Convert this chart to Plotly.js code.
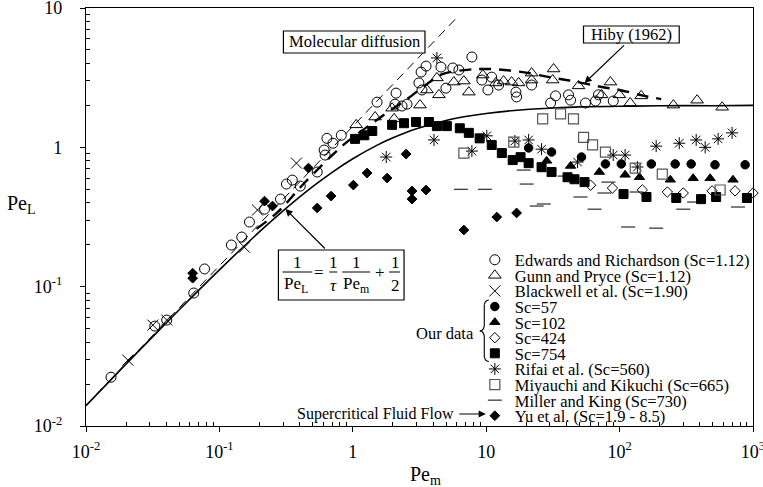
<!DOCTYPE html>
<html><head><meta charset="utf-8">
<script src="https://cdn.plot.ly/plotly-3.0.1.min.js"></script>
<style>html,body{margin:0;padding:0;background:#fff}#chart{width:763px;height:487px}</style>
</head><body><div id="chart"></div>
<script>
// ---------------- DATA ----------------
const modelX = [0.01,0.02,0.05,0.1,0.2,0.3,0.5,0.7,1,1.5,2,3,5,7,10,20,30,50,100,200,500,1000];
const modelY = [0.0140,0.0279,0.0683,0.132,0.248,0.350,0.522,0.662,0.828,1.029,1.17,1.359,1.56,1.664,1.75,1.87,1.91,1.95,1.97,1.99,1.99,2.0];
const molX = [0.01, 6.0];
const molY = [0.0141, 8.5];
const hibyX = [0.19,0.28,0.43,0.85,1.4,2.0,2.6,3.6,4.7,7.2,10.4,17.5,32,48,72,100,150,205];
const hibyY = [0.26,0.35,0.55,1.04,1.49,1.9,2.25,2.85,3.35,3.6,3.65,3.5,3.15,2.95,2.72,2.58,2.35,2.22];

const edwardsX = [0.0154,0.0328,0.0403,0.0642,0.0774,0.123,0.147,0.168,0.218,0.287,0.318,0.352,0.404,0.541,0.62,0.61,0.64,0.71,0.82,1.52,2.11,2.07,2.34,2.55,3.13,3.25,3.54,3.30,4.58,4.99,5.62,6.24,7.81,9.28,10.3,11.0,12.4,16.7,16.9,21.9,30.4,33.1,41.4,42.9,55.5,66.0,69.4,89.6];
const edwardsY = [0.0224,0.0521,0.0576,0.090,0.134,0.199,0.227,0.291,0.360,0.425,0.545,0.582,0.527,0.665,0.88,0.956,1.16,1.07,1.22,2.11,2.45,2.04,1.98,2.04,2.90,3.47,3.83,2.58,3.77,2.66,3.71,3.59,4.45,3.04,2.58,3.19,2.80,2.49,2.30,2.80,2.08,2.34,2.38,2.18,2.08,2.15,2.38,2.15];
const gunnX = [1.06,1.47,1.97,2.04,3.19,3.60,4.27,4.42,5.72,6.80,7.41,9.43,11.8,13.5,15.5,17.5,21.9,21.9,32.0,31.5,49.2,73.2,85.3,99.6,120,145,253,381,587];
const gunnY = [1.45,1.65,1.91,1.60,2.01,2.58,3.15,2.38,2.94,2.99,2.49,3.30,2.90,2.99,2.94,2.90,3.41,3.04,3.65,3.04,2.76,2.38,2.94,2.38,2.08,2.34,2.01,2.18,1.94];
const blackX = [0.0206,0.0317,0.0403,0.154,0.193,0.378];
const blackY = [0.0297,0.053,0.0576,0.192,0.355,0.77];
const sc57X = [20.8,30.9,51.8,78.3,103,173,261,344,519,873];
const sc57Y = [0.99,0.925,0.852,0.76,0.76,0.76,0.76,0.76,0.75,0.75];
const sc102X = [28.4,42.9,70.5,110,141,240,356,477,708];
const sc102Y = [0.80,0.735,0.665,0.635,0.61,0.585,0.60,0.60,0.585];
const sc424X = [60.6,88.4,148,228,300,494,734,1000];
const sc424Y = [0.535,0.51,0.495,0.478,0.47,0.487,0.487,0.47];
const sc754X = [1.04,1.22,1.40,1.97,2.42,2.98,3.72,4.27,5.07,6.34,7.41,8.93,11.0,13.1,15.8,18.1,20.8,26.0,30.9,40.7,45.9,54.6,107,159,266,408,529,900];
const sc754Y = [1.15,1.22,1.31,1.45,1.49,1.52,1.52,1.42,1.42,1.37,1.27,1.16,1.04,0.91,0.81,0.85,0.77,0.72,0.665,0.61,0.59,0.563,0.462,0.44,0.433,0.425,0.44,0.433];
const rifaiX = [1.78,4.06,4.27,7.81,10.1,16.4,20.8,26.0,48.4,89.6,110,136,188,280,375,438,548,697];
const rifaiY = [0.852,1.13,4.38,0.94,1.21,1.11,1.13,0.97,0.784,0.88,0.88,0.722,1.02,1.07,1.13,1.0,1.15,1.27];
const miyX = [6.80,16.1,26.5,36.1,45.1,53.7,62.7,78.3,131,209,567];
const miyY = [0.91,1.09,1.60,1.74,1.60,1.18,1.04,0.925,0.71,0.643,0.494];
const millerX = [6.46,9.77,19.1,20.1,23.9,27.0,38.7,50.9,64.9,77.0,82.5,116,134,188,300,362,772];
const millerY = [0.50,0.50,0.687,0.545,0.379,0.392,0.622,0.44,0.36,0.47,0.563,0.268,0.478,0.263,0.36,0.405,0.373];
const yuX = [0.063,0.063,0.218,0.250,0.465,0.541,0.688,1.01,1.28,1.81,2.51,2.78,2.78,3.54,6.80,12.0,16.9];
const yuY = [0.125,0.115,0.411,0.379,0.71,0.367,0.447,0.536,0.654,0.602,0.895,0.486,0.425,0.494,0.255,0.316,0.338];

const xTickVals = [0.01,0.1,1,10,100,1000];
const xTickText = ['10<sup>-2</sup>','10<sup>-1</sup>','1','10','10<sup>2</sup>','10<sup>3</sup>'];
const yTickVals = [0.01,0.1,1,10];
const yTickText = ['10<sup>-2</sup>','10<sup>-1</sup>','1','10'];

const legendNames = ['Edwards and Richardson (Sc=1.12)','Gunn and Pryce (Sc=1.12)','Blackwell et al. (Sc=1.90)',
  'Sc=57','Sc=102','Sc=424','Sc=754','Rifai et al. (Sc=560)','Miyauchi and Kikuchi (Sc=665)','Miller and King (Sc=730)','Yu et al. (Sc=1.9 - 8.5)'];

// ---------------- LAYOUT HELPERS ----------------
const FONT = 'Liberation Serif, Times New Roman, serif';
const L=86, R=755, T=8, B=426;
const fx = px => (px-L)/(R-L);
const fy = py => (B-py)/(B-T);

function minorVals(lo, hi){ const v=[]; for(let e=lo;e<hi;e++){ for(let k=2;k<=9;k++) v.push(k*Math.pow(10,e)); } return v; }

const black = '#000';
function mk(x,y,name,symbol,size,legendId,extra){
  return Object.assign({x:x,y:y,type:'scatter',mode:'markers',name:name,legend:legendId,
    marker:{symbol:symbol,size:size,color:black,line:{color:black,width:1}},cliponaxis:false}, extra||{});
}

const traces = [
  {x:molX,y:molY,type:'scatter',mode:'lines',line:{color:black,width:1,dash:'9px,6px'},showlegend:false},
  {x:modelX,y:modelY,type:'scatter',mode:'lines',line:{color:black,width:1.6,shape:'spline'},showlegend:false},
  {x:hibyX,y:hibyY,type:'scatter',mode:'lines',line:{color:black,width:2.4,dash:'12px,8px',shape:'spline'},showlegend:false},
  mk(edwardsX,edwardsY,legendNames[0],'circle-open',10,'legend'),
  mk(gunnX,gunnY,legendNames[1],'triangle-up-open',11,'legend2'),
  mk(blackX,blackY,legendNames[2],'x-thin-open',11,'legend3'),
  mk(sc57X,sc57Y,legendNames[3],'circle',8.5,'legend4'),
  mk(sc102X,sc102Y,legendNames[4],'triangle-up',9,'legend5'),
  mk(sc424X,sc424Y,legendNames[5],'diamond-open',8,'legend6'),
  mk(sc754X,sc754Y,legendNames[6],'square',9,'legend7'),
  mk(rifaiX,rifaiY,legendNames[7],'asterisk-open',10,'legend8'),
  mk(miyX,miyY,legendNames[8],'square-open',10,'legend9',{marker:{symbol:'square-open',size:10,color:'#555',line:{color:'#555',width:1.2}}}),
  mk(millerX,millerY,legendNames[9],'line-ew-open',10,'legend10'),
  mk(yuX,yuY,legendNames[10],'diamond',7.5,'legend11')
];

const LEGX = 476;
const rowY0 = 260, rowStep = 15.6;
const layout = {
  width:763, height:487,
  margin:{l:L, r:763-R, t:T, b:487-B, pad:0},
  paper_bgcolor:'#fff', plot_bgcolor:'#fff',
  font:{family:FONT, color:black, size:16},
  showlegend:true,
  xaxis:{type:'log', range:[-2,3], tickmode:'array', tickvals:xTickVals, ticktext:xTickText,
    ticks:'outside', ticklen:5, tickwidth:1, tickcolor:black, showline:true, mirror:true, linecolor:black, linewidth:1.2,
    showgrid:false, zeroline:false, tickfont:{family:FONT,size:18,color:black}, ticklabelstandoff:4, ticklabeloverflow:'allow',
    minor:{tickmode:'array', tickvals:minorVals(-2,3), ticks:'inside', ticklen:4, tickwidth:1, tickcolor:black, showgrid:false}},
  yaxis:{type:'log', range:[-2,1], tickmode:'array', tickvals:yTickVals, ticktext:yTickText,
    ticks:'outside', ticklen:5, tickwidth:1, tickcolor:black, showline:true, mirror:true, linecolor:black, linewidth:1.2,
    showgrid:false, zeroline:false, tickfont:{family:FONT,size:18,color:black}, ticklabelstandoff:14, ticklabeloverflow:'allow',
    minor:{tickmode:'array', tickvals:minorVals(-2,1), ticks:'inside', ticklen:4, tickwidth:1, tickcolor:black, showgrid:false}},
  annotations:[], shapes:[]
};
for(let i=0;i<11;i++){
  layout[i===0?'legend':'legend'+(i+1)] = {x:fx(LEGX), y:fy(rowY0+rowStep*i), xref:'paper', yref:'paper',
    xanchor:'left', yanchor:'middle', bgcolor:'rgba(255,255,255,0)', borderwidth:0, itemwidth:30,
    font:{family:FONT,size:16.5,color:black}};
}

function txt(text, px, py, size, xanchor, extra){
  layout.annotations.push(Object.assign({text:text, x:fx(px), y:fy(py), xref:'paper', yref:'paper',
    xanchor:xanchor||'center', yanchor:'middle', showarrow:false, font:{family:FONT,size:size,color:black}}, extra||{}));
}
function arrow(hx, hy, tx, ty){
  layout.annotations.push({text:'', x:fx(hx), y:fy(hy), xref:'paper', yref:'paper', showarrow:true,
    ax:tx-hx, ay:ty-hy, axref:'pixel', ayref:'pixel', arrowhead:2, arrowsize:1.2, arrowwidth:1.2, arrowcolor:black});
}
function rect(x0,y0,x1,y1){
  layout.shapes.push({type:'rect', xref:'paper', yref:'paper', x0:fx(x0), x1:fx(x1), y0:fy(y0), y1:fy(y1),
    line:{color:black,width:1.2}, fillcolor:'#fff', layer:'above'});
}
function seg(x0,y0,x1,y1,w){
  layout.shapes.push({type:'line', xref:'paper', yref:'paper', x0:fx(x0), x1:fx(x1), y0:fy(y0), y1:fy(y1),
    line:{color:black,width:w||1}, layer:'above'});
}

// axis titles
txt('Pe<sub>L</sub>', 21, 205, 20);
txt('Pe<sub>m</sub>', 427, 475, 20);

// Molecular diffusion box
rect(284,31,426,53);
txt('Molecular diffusion', 355, 42, 16.5);
// Hiby box + arrow
rect(585,26,681,43);
txt('Hiby (1962)', 633, 34.5, 16.5);
arrow(586,83, 627,44);

// Equation box + arrow
rect(279,250,405,300);
arrow(286,209, 327,250);
[[298,'1'],[334,'1'],[357,'1'],[396,'1']].forEach(a=>txt(a[1], a[0], 262, 17));
seg(283,272,313,272); seg(330,272,338,272); seg(343,272,371,272); seg(390,272,401,272);
txt('Pe<sub>L</sub>', 297, 285, 17);
txt('<i>τ</i>', 334, 285, 17);
txt('Pe<sub>m</sub>', 357, 285, 17);
txt('2', 396, 285, 17);
txt('=', 320, 272, 17);
txt('+', 381, 272, 17);

// Our data brace (polyline of line segments approximating a curly brace)
txt('Our data', 477, 333, 16.5, 'right');
const bracePts = [[490,300],[488,300.5],[486.5,302],[485.5,304.5],[485.5,326],[484.5,329],[483,330.5],[481,331],
                  [483,331.5],[484.5,333],[485.5,336],[485.5,357],[486.5,359.5],[488,361],[490,361.5]];
for(let i=1;i<bracePts.length;i++) seg(bracePts[i-1][0],bracePts[i-1][1],bracePts[i][0],bracePts[i][1],1.1);

// Supercritical arrow
txt('Supercritical Fluid Flow', 457, 414, 16, 'right');
arrow(487,414, 459,414);

Plotly.newPlot('chart', traces, layout, {displayModeBar:false, staticPlot:true});
</script></body></html>
